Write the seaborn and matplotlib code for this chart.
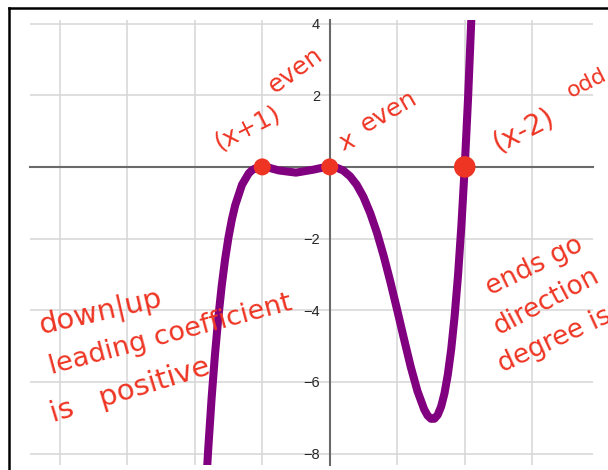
import numpy as np
import pandas as pd
import matplotlib
matplotlib.use("Agg")
import matplotlib.pyplot as plt
import seaborn as sns
from matplotlib.ticker import MultipleLocator, FixedLocator

# 曲线点 (x, y)
curve_x = [-1.84, -1.8, -1.75, -1.7, -1.65, -1.6, -1.55, -1.5, -1.45, -1.4, -1.3,
           -1.2, -1.15, -1.1, -1.0, -0.9, -0.85, -0.75, -0.5, -0.25, -0.1, 0.0,
           0.1, 0.2, 0.3, 0.4, 0.5, 0.6, 0.7, 0.8, 0.9, 1.0, 1.1, 1.2, 1.3, 1.4,
           1.45, 1.5, 1.55, 1.6, 1.65, 1.7, 1.75, 1.8, 1.85, 1.9, 1.95, 2.0, 2.05, 2.1]
curve_y = [-9.17, -7.88, -6.46, -5.24, -4.20, -3.32, -2.58, -1.97, -1.47, -1.07, -0.50,
           -0.18, -0.09, -0.04, 0.0, -0.02, -0.05, -0.10, -0.16, -0.08, -0.02, 0.0,
           -0.02, -0.10, -0.26, -0.50, -0.84, -1.29, -1.84, -2.49, -3.22, -4.00, -4.80, -5.58, -6.26, -6.77,
           -6.94, -7.03, -7.03, -6.92, -6.69, -6.32, -5.79, -5.08, -4.17, -3.04, -1.65, 0.0, 1.95, 4.24]

# 零点
root_x = [-1, 0, 2]
root_y = [0, 0, 0]

y_tick_values = [-8, -6, -4, -2, 2, 4]

# 手写注释文字
note_x_plus_1 = "(x+1)"
note_even = "even"
note_x = "x"
note_x_minus_2 = "(x-2)"
note_odd = "odd"
note_lines_left = ["down|up", "leading coefficient", "is   positive"]
note_lines_right = ["ends go", "direction", "degree is"]

sns.set_style("white")
plt.rcParams['font.family'] = ['Liberation Sans', 'DejaVu Sans']

W, H = 608, 470
fig = plt.figure(figsize=(W / 100, H / 100), dpi=100)

# 外框 (只看得到左边和上边)
frame = fig.add_axes([9 / W, -0.1, 1.2, 1 - 8 / H + 0.1], zorder=0)
for side in ['right', 'bottom']:
    frame.spines[side].set_visible(False)
for side in ['left', 'top']:
    frame.spines[side].set_color('black')
    frame.spines[side].set_linewidth(1.8)
frame.set_xticks([])
frame.set_yticks([])

ax = fig.add_axes([30 / W, 5 / H, (593 - 30) / W, (465 - 20) / H], zorder=1)
ax.set_facecolor('none')

sns.lineplot(x=curve_x, y=curve_y, sort=False, color='#800080', lw=5.8,
             ax=ax, zorder=3, solid_capstyle='round')
sns.scatterplot(x=root_x[:2], y=root_y[:2], s=150, color='#ee3524',
                edgecolor='none', ax=ax, zorder=4)
sns.scatterplot(x=root_x[2:], y=root_y[2:], s=240, color='#ee3524',
                edgecolor='none', ax=ax, zorder=4)

ax.set_xlim(-4.44, 3.90)
ax.set_ylim(-8.32, 4.1)

ax.xaxis.set_major_locator(MultipleLocator(1))
ax.yaxis.set_major_locator(FixedLocator(y_tick_values))
ax.yaxis.set_minor_locator(MultipleLocator(1))
ax.set_yticklabels([f"\u2212{abs(v)}" if v < 0 else str(v) for v in y_tick_values])

ax.set_axisbelow(True)
ax.grid(True, which='major', color='#d6d6d6', lw=1.1)

for side in ['top', 'right']:
    ax.spines[side].set_visible(False)
for side in ['left', 'bottom']:
    ax.spines[side].set_position(('data', 0))
    ax.spines[side].set_color('#6a6a6a')
    ax.spines[side].set_linewidth(1.5)

ax.tick_params(axis='x', which='major', direction='inout', length=9, width=1.2,
               color='#6a6a6a', labelbottom=False)
ax.tick_params(axis='y', which='both', direction='inout', length=12, width=1.2,
               color='#6a6a6a', labelsize=10.5, pad=1)
ax.set_xlabel('')
ax.set_ylabel('')

red = '#ee3524'
hand = dict(color=red, family=['DejaVu Sans'], zorder=6, ha='center', va='center')

ax.text(-1.21, 1.09, note_x_plus_1, fontsize=18, rotation=27, **hand)
ax.text(-0.51, 2.71, note_even, fontsize=18, rotation=36, **hand)
ax.text(0.26, 0.70, note_x, fontsize=18, rotation=20, **hand)
ax.text(0.88, 1.54, note_even, fontsize=18, rotation=30, **hand)
ax.text(2.87, 1.03, note_x_minus_2, fontsize=20, rotation=27, **hand)
ax.text(3.80, 2.35, note_odd, fontsize=16, rotation=27, **hand)

ax.text(-3.40, -4.05, note_lines_left[0], fontsize=21, rotation=13, **hand)
ax.text(-2.36, -4.69, note_lines_left[1], fontsize=19.5, rotation=15, **hand)
ax.text(-2.95, -6.23, note_lines_left[2], fontsize=21, rotation=17, **hand)

hand_left = dict(color=red, family=['DejaVu Sans'], zorder=6, ha='left',
                 va='baseline', rotation_mode='anchor')
ax.text(2.38, -3.58, note_lines_right[0], fontsize=19, rotation=26, **hand_left)
ax.text(2.50, -4.69, note_lines_right[1], fontsize=19, rotation=28, **hand_left)
ax.text(2.56, -5.73, note_lines_right[2], fontsize=19, rotation=25, **hand_left)

fig.savefig('out.png', dpi=100)
